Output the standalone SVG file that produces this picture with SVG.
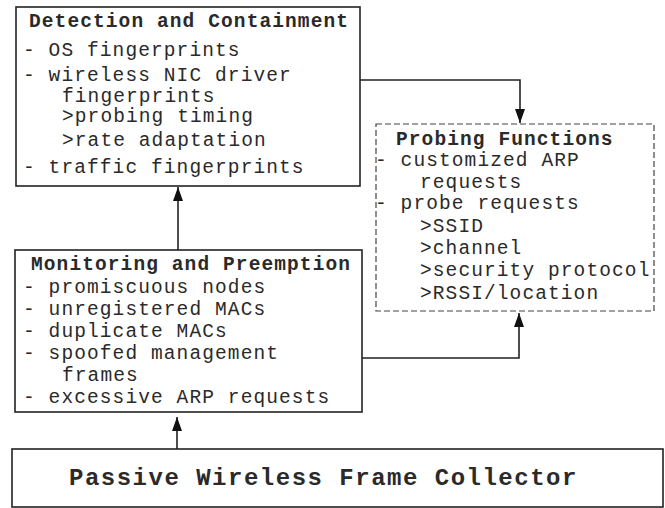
<svg xmlns="http://www.w3.org/2000/svg" width="665" height="508" viewBox="0 0 665 508">
  <style>
    .box { fill: #fff; stroke: #222; stroke-width: 1.6; }
    .dashed { fill: #fff; stroke: #444; stroke-width: 1.2; stroke-dasharray: 6 3; }
    .t { font-family: "Liberation Mono", "Courier New", monospace; font-size: 19.5px; letter-spacing: 1.1px; fill: #2a2a2a; }
    .h { font-weight: bold; }
    .big { font-family: "Liberation Mono", "Courier New", monospace; font-size: 24px; letter-spacing: 1.5px; font-weight: bold; fill: #2a2a2a; }
    .wire { fill: none; stroke: #222; stroke-width: 1.6; }
  </style>
  <defs>
    <marker id="arrow" viewBox="0 0 14 10" refX="14" refY="5" markerWidth="14" markerHeight="10" markerUnits="userSpaceOnUse" orient="auto">
      <path d="M0,0 L14,5 L0,10 z" fill="#111"/>
    </marker>
  </defs>
  <rect width="665" height="508" fill="#fff"/>

  <g id="detection">
    <rect class="box" x="16" y="7" width="344" height="179"/>
    <text class="t h" x="29" y="27">Detection and Containment</text>
    <text class="t" x="23" y="56">- OS fingerprints</text>
    <text class="t" x="23" y="81">- wireless NIC driver</text>
    <text class="t" x="62" y="102">fingerprints</text>
    <text class="t" x="62" y="122">&gt;probing timing</text>
    <text class="t" x="62" y="146">&gt;rate adaptation</text>
    <text class="t" x="23" y="173">- traffic fingerprints</text>
  </g>

  <g id="probing">
    <rect class="dashed" x="376" y="124" width="278" height="187"/>
    <text class="t h" x="396" y="145">Probing Functions</text>
    <text class="t" x="375" y="166">- customized ARP</text>
    <text class="t" x="420" y="188">requests</text>
    <text class="t" x="375" y="209">- probe requests</text>
    <text class="t" x="420" y="232">&gt;SSID</text>
    <text class="t" x="420" y="254">&gt;channel</text>
    <text class="t" x="420" y="276">&gt;security protocol</text>
    <text class="t" x="420" y="299">&gt;RSSI/location</text>
  </g>

  <g id="monitoring">
    <rect class="box" x="15" y="250" width="347" height="162"/>
    <text class="t h" x="31" y="270">Monitoring and Preemption</text>
    <text class="t" x="23" y="293">- promiscuous nodes</text>
    <text class="t" x="23" y="315">- unregistered MACs</text>
    <text class="t" x="23" y="337">- duplicate MACs</text>
    <text class="t" x="23" y="359">- spoofed management</text>
    <text class="t" x="62" y="381">frames</text>
    <text class="t" x="23" y="403">- excessive ARP requests</text>
  </g>

  <g id="collector">
    <rect class="box" x="12" y="449" width="651" height="58"/>
    <text class="big" x="69" y="485">Passive Wireless Frame Collector</text>
  </g>

  <g id="connectors">
    <path class="wire" d="M360,80 H520 V123" marker-end="url(#arrow)"/>
    <path class="wire" d="M362,358 H519 V313" marker-end="url(#arrow)"/>
    <path class="wire" d="M178,250 V187" marker-end="url(#arrow)"/>
    <path class="wire" d="M177,449 V417" marker-end="url(#arrow)"/>
  </g>
</svg>
